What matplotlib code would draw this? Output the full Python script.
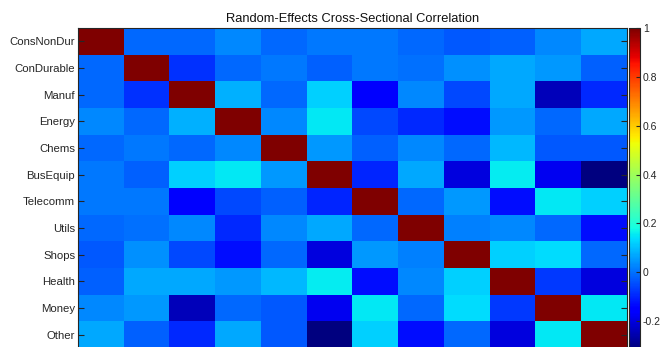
import matplotlib
matplotlib.use("Agg")
import matplotlib.pyplot as plt
import numpy as np

plt.rcParams["font.family"] = ["Liberation Sans", "DejaVu Sans"]

industries = ["ConsNonDur", "ConDurable", "Manuf", "Energy", "Chems", "BusEquip",
              "Telecomm", "Utils", "Shops", "Health", "Money", "Other"]

corr = [
    [1.00, -0.01, -0.01, 0.03, -0.01, 0.01, 0.01, -0.01, -0.03, -0.02, 0.03, 0.07],
    [-0.01, 1.00, -0.08, -0.01, 0.01, -0.02, 0.01, 0.00, 0.04, 0.07, 0.05, -0.02],
    [-0.01, -0.08, 1.00, 0.08, -0.01, 0.12, -0.15, 0.03, -0.05, 0.07, -0.24, -0.09],
    [0.03, -0.01, 0.08, 1.00, 0.03, 0.155, -0.05, -0.09, -0.13, 0.05, -0.01, 0.07],
    [-0.01, 0.01, -0.01, 0.03, 1.00, 0.05, -0.02, 0.03, -0.01, 0.09, -0.03, -0.03],
    [0.01, -0.02, 0.12, 0.155, 0.05, 1.00, -0.10, 0.07, -0.20, 0.16, -0.18, -0.31],
    [0.01, 0.01, -0.15, -0.05, -0.02, -0.10, 1.00, -0.01, 0.05, -0.13, 0.155, 0.12],
    [-0.01, 0.00, 0.03, -0.09, 0.03, 0.07, -0.01, 1.00, 0.02, 0.03, -0.01, -0.13],
    [-0.03, 0.04, -0.05, -0.13, -0.01, -0.20, 0.05, 0.02, 1.00, 0.12, 0.14, -0.01],
    [-0.02, 0.07, 0.07, 0.05, 0.09, 0.16, -0.13, 0.03, 0.12, 1.00, -0.07, -0.20],
    [0.03, 0.05, -0.24, -0.01, -0.03, -0.18, 0.155, -0.01, 0.14, -0.07, 1.00, 0.155],
    [0.07, -0.02, -0.09, 0.07, -0.03, -0.31, 0.12, -0.13, -0.01, -0.20, 0.155, 1.00],
]
cbar_ticks = [-0.2, 0, 0.2, 0.4, 0.6, 0.8, 1]

data = np.array(corr)
W, H = 661, 347
dark = "#262626"

fig = plt.figure(figsize=(W / 100, H / 100), dpi=100)
ax = fig.add_axes([78 / W, -1 / H, 549 / W, 320 / H])
cax = fig.add_axes([629 / W, -1 / H, 11 / W, 320 / H])

im = ax.imshow(data, cmap="jet", vmin=data.min(), vmax=data.max(),
               aspect="auto", interpolation="nearest")

ax.set_xticks([])
ax.set_yticks(range(len(industries)))
ax.set_yticklabels(industries)
ax.tick_params(axis="y", direction="in", left=True, right=True, length=4,
               width=0.8, color=dark, labelsize=8.2, labelcolor=dark, pad=2)
for s in ax.spines.values():
    s.set_color(dark)
    s.set_linewidth(0.8)
ax.set_title("Random-Effects Cross-Sectional Correlation", fontsize=9.3,
             color="#111111", pad=4)

cb = fig.colorbar(im, cax=cax, ticks=cbar_ticks)
cb.ax.set_yticklabels(["%g" % t for t in cbar_ticks])
cb.ax.tick_params(direction="in", length=3, width=0.8, color=dark,
                  labelsize=7.5, labelcolor=dark, pad=2)
cb.outline.set_edgecolor(dark)
cb.outline.set_linewidth(0.8)

fig.savefig("out.png", dpi=100)
